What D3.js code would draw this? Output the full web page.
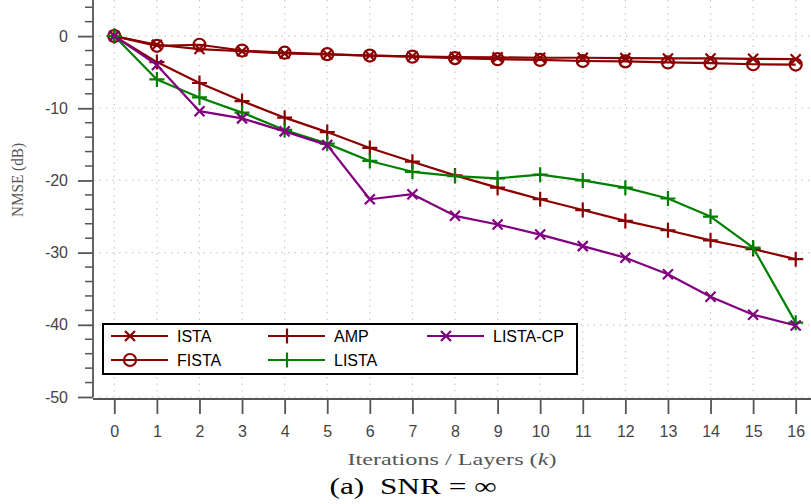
<!DOCTYPE html>
<html><head><meta charset="utf-8">
<script src="https://cdn.jsdelivr.net/npm/d3@7"></script>
<style>body{margin:0;background:#fff}</style>
</head><body>
<svg id="c" width="811" height="504"></svg>
<script>
const iterations = [0,1,2,3,4,5,6,7,8,9,10,11,12,13,14,15,16];
const ista    = [0,-1.2,-1.8,-2.1,-2.4,-2.55,-2.7,-2.8,-2.9,-2.95,-3.0,-3.0,-3.05,-3.1,-3.1,-3.15,-3.2];
const fista   = [0,-1.35,-1.2,-2.0,-2.3,-2.5,-2.7,-2.85,-3.05,-3.2,-3.3,-3.45,-3.5,-3.65,-3.75,-3.9,-3.95];
const amp     = [0,-3.6,-6.5,-9.0,-11.3,-13.3,-15.5,-17.4,-19.3,-21.0,-22.6,-24.1,-25.6,-26.9,-28.3,-29.5,-30.9];
const lista   = [0,-6.0,-8.5,-10.6,-13.0,-14.9,-17.3,-18.8,-19.4,-19.7,-19.2,-20.0,-21.0,-22.5,-25.0,-29.3,-39.7];
const listacp = [0,-4.0,-10.4,-11.4,-13.2,-15.1,-22.6,-21.9,-24.9,-26.1,-27.5,-29.1,-30.7,-33.0,-36.1,-38.6,-40.1];
const yTicks = [0,-10,-20,-30,-40,-50];
const xTicks = iterations;

const series = [
  {name:"ISTA", values:ista, color:"#8b0000", marker:"x"},
  {name:"FISTA", values:fista, color:"#8b0000", marker:"o"},
  {name:"AMP", values:amp, color:"#8b0000", marker:"+"},
  {name:"LISTA", values:lista, color:"#008000", marker:"+"},
  {name:"LISTA-CP", values:listacp, color:"#800080", marker:"x"}
];

const svg = d3.select("#c");
const x = d3.scaleLinear().domain([-0.5,16.5]).range([93, 817]);
const y = d3.scaleLinear().domain([5,-50]).range([0, 397]);
const axisColor = "#555";
const fmt = d => String(d);

// grid
const g = svg.append("g");
g.selectAll(".gx").data(xTicks).enter().append("line")
  .attr("x1",d=>x(d)).attr("x2",d=>x(d)).attr("y1",0).attr("y2",397)
  .attr("stroke","#ccc").attr("stroke-width",1.2).attr("stroke-dasharray","1.5,5");
g.selectAll(".gy").data(yTicks).enter().append("line")
  .attr("x1",93).attr("x2",811).attr("y1",d=>y(d)).attr("y2",d=>y(d))
  .attr("stroke","#ccc").attr("stroke-width",1.2).attr("stroke-dasharray","1.5,5");

// axes
const yAxis = d3.axisLeft(y).tickValues(yTicks).tickSize(15).tickPadding(10).tickFormat(fmt);
const ya = svg.append("g").attr("transform","translate(93,0)").call(yAxis);
const yMinor = d3.range(4,-50,-2).filter(v=>v%10!==0);
svg.append("g").selectAll("line").data(yMinor).enter().append("line")
  .attr("x1",85).attr("x2",93).attr("y1",d=>y(d)).attr("y2",d=>y(d))
  .attr("stroke",axisColor).attr("stroke-width",1.5);
const xAxis = d3.axisBottom(x).tickValues(xTicks).tickSize(15).tickPadding(12).tickFormat(fmt);
const xa = svg.append("g").attr("transform","translate(0,399)").call(xAxis);
[ya,xa].forEach(a=>{
  a.select(".domain").attr("stroke",axisColor).attr("stroke-width",1.8);
  a.selectAll(".tick line").attr("stroke",axisColor).attr("stroke-width",1.8);
  a.selectAll(".tick text").attr("fill","#444").attr("font-family","Liberation Sans, Arial, sans-serif").attr("font-size",16);
});
ya.select(".domain").attr("d","M-0,0V397");
xa.select(".domain").attr("d","M93,0H811");

// lines
const line = d3.line().x((d,i)=>x(iterations[i])).y(d=>y(d));
function drawMarker(sel, type, color, cx, cy){
  if(type==="x"){
    const s=5;
    sel.append("path").attr("d",`M${cx-s},${cy-s}L${cx+s},${cy+s}M${cx-s},${cy+s}L${cx+s},${cy-s}`)
      .attr("stroke",color).attr("stroke-width",2.2).attr("fill","none");
  } else if(type==="+"){
    const s=7.5;
    sel.append("path").attr("d",`M${cx-s},${cy}L${cx+s},${cy}M${cx},${cy-s}L${cx},${cy+s}`)
      .attr("stroke",color).attr("stroke-width",2.2).attr("fill","none");
  } else {
    sel.append("circle").attr("cx",cx).attr("cy",cy).attr("r",6)
      .attr("stroke",color).attr("stroke-width",2.2).attr("fill","none");
  }
}
const pl = svg.append("g");
series.forEach(s=>{
  pl.append("path").attr("d",line(s.values)).attr("fill","none")
    .attr("stroke",s.color).attr("stroke-width",2.2).attr("stroke-linejoin","round");
  const mg = pl.append("g");
  s.values.forEach((v,i)=>drawMarker(mg,s.marker,s.color,x(iterations[i]),y(v)));
});

// legend
const lg = svg.append("g");
lg.append("rect").attr("x",103).attr("y",324).attr("width",474).attr("height",50)
  .attr("fill","#fff").attr("stroke","#000").attr("stroke-width",2);
const legPos = [
  {s:0,x:111,y:336},{s:1,x:111,y:360},{s:2,x:268,y:336},{s:3,x:268,y:360},{s:4,x:427,y:336}
];
legPos.forEach(p=>{
  const s = series[p.s];
  lg.append("line").attr("x1",p.x).attr("x2",p.x+57).attr("y1",p.y).attr("y2",p.y)
    .attr("stroke",s.color).attr("stroke-width",2.2);
  drawMarker(lg,s.marker,s.color,p.x+19,p.y);
  lg.append("text").attr("x",p.x+66).attr("y",p.y).attr("dy","0.36em")
    .attr("font-family","Liberation Sans, Arial, sans-serif").attr("font-size",16).attr("fill","#000")
    .text(s.name);
});

// labels
const serif = "Liberation Serif, DejaVu Serif, serif";
svg.append("text").attr("transform","translate(23,180) rotate(-90)").attr("text-anchor","middle")
  .attr("font-family",serif).attr("font-size",17).attr("fill","#555")
  .attr("textLength",74).attr("lengthAdjust","spacingAndGlyphs")
  .text("NMSE (dB)");
const xl = svg.append("text").attr("x",452).attr("y",465).attr("text-anchor","middle")
  .attr("font-family",serif).attr("font-size",16).attr("fill","#555")
  .attr("textLength",209).attr("lengthAdjust","spacingAndGlyphs");
xl.append("tspan").text("Iterations / Layers (");
xl.append("tspan").attr("font-style","italic").text("k");
xl.append("tspan").text(")");
const cap = svg.append("text").attr("x",413).attr("y",494).attr("text-anchor","middle")
  .attr("font-family",serif).attr("font-size",23).attr("fill","#000")
  .attr("textLength",167).attr("lengthAdjust","spacingAndGlyphs");
cap.append("tspan").text("(a)\u00A0\u00A0SNR = ∞");
</script>
</body></html>
